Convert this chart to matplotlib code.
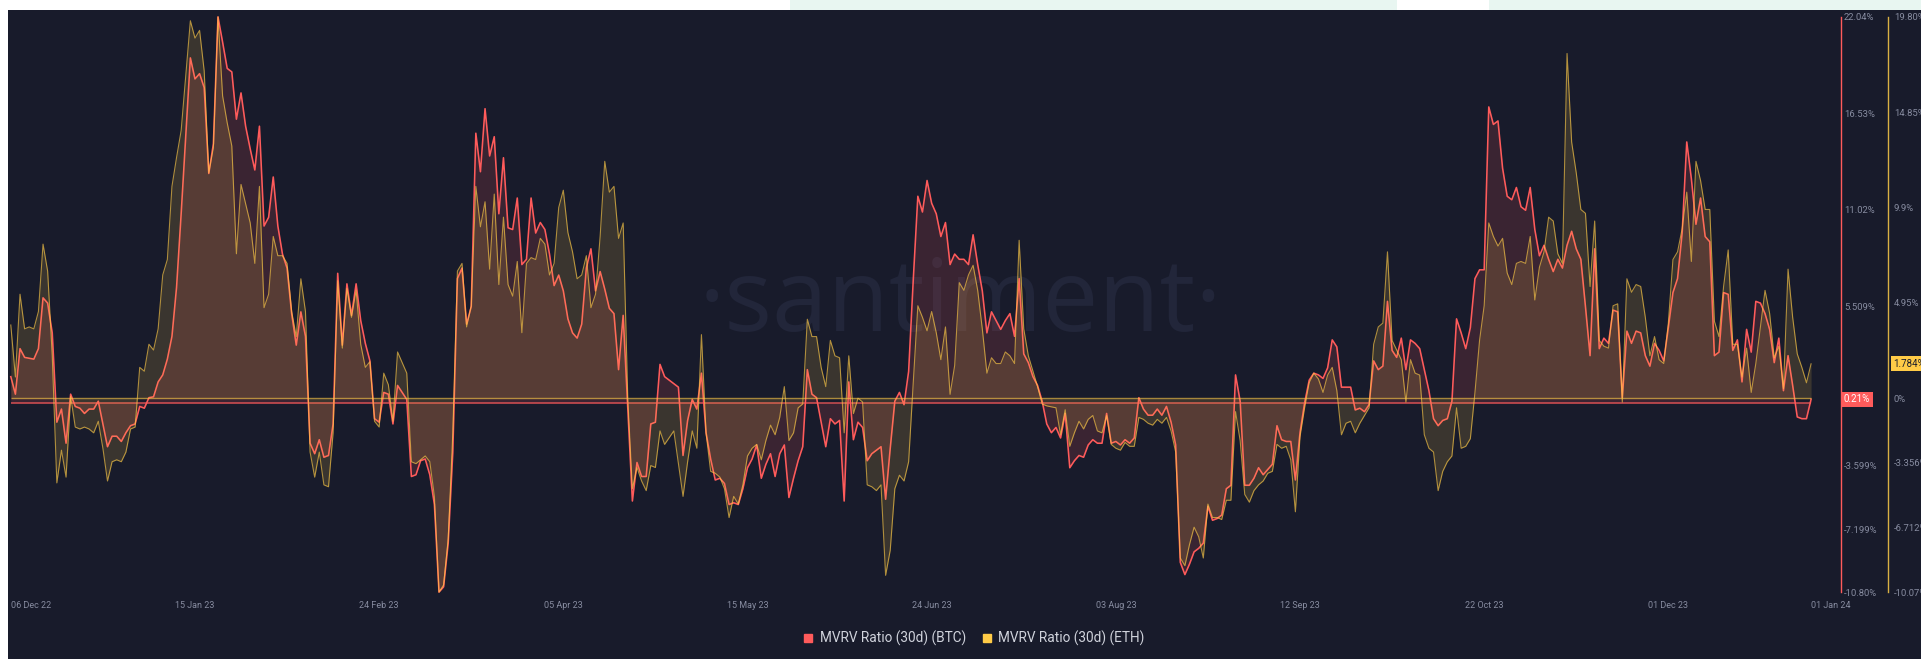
import matplotlib.pyplot as plt
from matplotlib.lines import Line2D
from matplotlib.patches import Rectangle
import pandas as pd

plt.rcParams['font.family'] = ['Roboto', 'DejaVu Sans']

# MVRV ratio (30d), % -- daily, counted in days from the first point
start = pd.Timestamp("2022-12-06")

btc_days = [0, 1, 2, 3, 5, 6, 7, 8, 9, 10, 11, 12, 13, 14, 15, 16, 17, 18, 19, 20,
            21, 22, 23, 24, 25, 26, 27, 28, 29, 30, 31, 32, 33, 34, 35, 36, 37, 39, 40, 41,
            42, 43, 44, 45, 46, 47, 48, 49, 50, 51, 52, 53, 54, 55, 56, 57, 58, 59, 60, 61,
            62, 63, 64, 65, 66, 67, 68, 69, 70, 71, 72, 73, 74, 75, 76, 77, 78, 79, 80, 81,
            82, 83, 84, 86, 87, 88, 89, 90, 91, 92, 93, 94, 95, 96, 97, 98, 99, 100, 101, 102,
            103, 104, 105, 106, 107, 108, 109, 110, 111, 112, 113, 114, 115, 116, 117, 118, 119, 120, 121, 122,
            123, 124, 125, 126, 127, 128, 129, 130, 131, 132, 133, 134, 135, 136, 137, 138, 139, 140, 141, 142,
            144, 145, 146, 147, 148, 149, 150, 151, 152, 153, 154, 155, 156, 157, 158, 159, 160, 161, 162, 163,
            164, 165, 166, 167, 168, 169, 170, 171, 172, 173, 174, 175, 176, 177, 178, 179, 180, 181, 182, 183,
            184, 185, 186, 187, 189, 190, 191, 192, 193, 194, 195, 196, 197, 198, 199, 200, 201, 202, 203, 204,
            205, 206, 207, 208, 209, 210, 211, 212, 213, 214, 215, 216, 217, 218, 219, 220, 221, 222, 223, 224,
            225, 226, 227, 228, 229, 230, 231, 232, 233, 234, 235, 236, 237, 238, 239, 240, 241, 242, 243, 244,
            245, 246, 247, 248, 249, 250, 251, 252, 253, 254, 255, 256, 257, 258, 259, 260, 261, 262, 263, 264,
            265, 266, 267, 268, 269, 270, 271, 272, 273, 274, 275, 276, 277, 278, 279, 280, 281, 282, 283, 284,
            285, 286, 287, 288, 289, 290, 291, 292, 293, 294, 295, 296, 297, 298, 299, 300, 301, 302, 303, 304,
            305, 306, 307, 308, 309, 310, 311, 312, 313, 314, 315, 316, 317, 318, 319, 320, 321, 322, 323, 324,
            325, 326, 327, 328, 329, 330, 331, 332, 333, 334, 335, 336, 337, 338, 339, 340, 341, 342, 343, 344,
            345, 346, 347, 348, 349, 350, 351, 352, 353, 354, 355, 356, 357, 358, 359, 360, 361, 362, 363, 364,
            365, 366, 367, 368, 369, 370, 371, 372, 373, 374, 375, 376, 377, 378, 379, 380, 381, 382, 383, 384,
            385, 386, 387, 388, 389, 390, 391]
btc_mvrv = [1.5, 0.5, 3.1, 2.6, 2.5, 3.1, 6.0, 5.7, 4.0, -1.1, -0.35, -2.3, 0.5, -0.2, -0.3, -0.6, -0.35, -0.35, 0.1, -1.2,
            -2.5, -1.9, -1.9, -2.2, -1.7, -1.3, -1.2, -0.2, -0.3, 0.3, 0.35, 1.2, 1.6, 2.5, 3.8, 6.6, 10.8, 19.7, 18.5, 18.8,
            18.0, 13.1, 14.8, 22.04, 20.6, 19.1, 18.9, 16.2, 17.7, 15.8, 14.5, 13.3, 15.8, 10.1, 10.6, 12.9, 10.1, 8.5, 7.7, 5.1,
            3.3, 5.2, 3.8, -2.3, -2.9, -2.1, -3.1, -3.0, -1.2, 7.4, 3.3, 6.8, 5.0, 6.8, 4.7, 3.4, 2.4, -0.9, -1.1, 0.6,
            0.5, -1.2, 1.0, 0.2, -4.2, -4.1, -3.3, -3.2, -4.1, -5.8, -10.80, -10.5, -8.0, -2.8, 7.1, 7.7, 4.5, 5.5, 15.4, 13.2,
            16.8, 14.1, 15.2, 10.8, 14.0, 10.0, 9.9, 11.7, 7.9, 8.2, 11.7, 9.7, 10.3, 9.9, 8.5, 6.7, 7.3, 6.4, 4.8, 4.0,
            3.7, 4.5, 7.7, 8.8, 6.4, 7.5, 6.5, 5.4, 5.1, 1.9, 5.0, -0.35, -5.6, -3.4, -4.2, -4.2, -1.2, -1.1, 2.2, 1.5,
            1.1, 0.9, -3.0, -1.0, 0.2, -0.35, 1.7, -1.7, -3.2, -4.4, -4.3, -4.6, -5.8, -5.7, -5.8, -4.9, -3.7, -3.2, -2.4, -4.3,
            -3.5, -2.9, -4.2, -2.9, -2.4, -5.4, -4.3, -3.3, -2.5, 1.9, 0.5, 0.3, -1.1, -2.5, -0.9, -1.2, -1.0, -5.6, 1.2, -2.1,
            -1.1, -1.4, -3.3, -2.9, -2.5, -5.5, -2.6, 0.1, 0.6, -0.1, 1.8, 7.0, 11.8, 10.9, 12.7, 11.4, 10.8, 9.5, 10.3, 7.9,
            8.5, 8.2, 8.2, 7.9, 9.6, 7.9, 6.4, 4.0, 5.2, 4.7, 4.2, 4.7, 5.1, 3.8, 7.1, 2.8, 2.3, 1.5, 1.0, 0.1,
            -1.2, -1.7, -1.4, -2.0, -0.6, -3.7, -3.3, -3.0, -3.1, -2.4, -2.1, -2.3, -2.3, -0.6, -2.3, -2.2, -2.4, -2.1, -2.3, -2.0,
            0.3, -0.35, -0.7, -0.7, -0.35, -0.7, -0.2, -1.1, -2.4, -9.1, -9.8, -9.2, -8.5, -8.3, -8.0, -5.9, -6.7, -6.6, -6.4, -4.9,
            -4.7, 1.6, 0.1, -4.7, -4.7, -4.3, -3.7, -4.1, -3.8, -3.5, -1.3, -2.1, -2.2, -2.2, -4.4, -1.7, 0.0, 1.3, 1.7, 1.6,
            1.4, 2.0, 3.6, 3.2, 0.9, 0.9, 0.9, -0.4, -0.3, -0.5, -0.1, 2.4, 1.9, 2.1, 5.8, 3.0, 2.6, 3.7, 1.9, 3.6,
            3.4, 3.1, 1.9, 0.7, -0.9, -1.3, -1.0, -0.9, 0.1, 4.8, 4.0, 3.1, 4.3, 7.1, 7.6, 7.6, 16.9, 15.9, 16.1, 13.4,
            11.8, 11.6, 12.3, 11.2, 11.0, 12.3, 9.9, 8.4, 9.0, 8.2, 7.5, 8.2, 7.7, 9.0, 9.8, 8.8, 8.2, 5.5, 2.7, 8.8,
            3.1, 3.7, 3.4, 5.3, 5.2, 0.3, 4.1, 3.4, 4.1, 4.0, 2.7, 2.1, 3.4, 3.0, 2.4, 4.3, 6.3, 7.1, 9.7, 14.9,
            12.8, 10.2, 11.7, 9.5, 9.2, 2.7, 2.9, 6.3, 6.2, 3.0, 3.6, 1.2, 4.2, 2.9, 5.8, 5.7, 5.1, 4.2, 2.3, 3.7,
            0.7, 2.7, 1.0, -0.8, -0.9, -0.9, 0.21]

eth_days = [0, 1, 2, 3, 4, 5, 6, 7, 8, 9, 10, 11, 12, 13, 14, 15, 16, 17, 18, 19,
            20, 21, 22, 23, 24, 25, 26, 27, 28, 29, 30, 31, 32, 33, 34, 35, 36, 37, 39, 40,
            41, 42, 43, 44, 45, 46, 47, 48, 49, 50, 52, 53, 54, 55, 56, 57, 58, 59, 60, 61,
            62, 63, 64, 65, 66, 67, 68, 69, 70, 71, 72, 73, 74, 75, 76, 77, 78, 79, 80, 81,
            82, 83, 84, 86, 87, 88, 90, 91, 92, 93, 94, 95, 96, 97, 98, 99, 100, 101, 102, 103,
            104, 105, 106, 107, 108, 109, 110, 111, 112, 113, 114, 115, 116, 117, 118, 119, 120, 121, 122, 123,
            124, 125, 126, 127, 128, 129, 130, 131, 132, 133, 134, 135, 136, 137, 138, 139, 140, 141, 142, 144,
            145, 146, 147, 148, 149, 150, 151, 152, 153, 154, 155, 156, 157, 158, 159, 160, 161, 162, 163, 164,
            165, 166, 167, 168, 169, 170, 171, 172, 173, 174, 175, 176, 177, 178, 179, 180, 181, 182, 183, 184,
            185, 186, 187, 188, 189, 190, 191, 192, 193, 194, 195, 196, 197, 198, 199, 200, 201, 202, 203, 204,
            205, 206, 207, 208, 209, 210, 211, 212, 213, 214, 215, 216, 217, 218, 219, 220, 221, 222, 223, 224,
            225, 227, 228, 229, 230, 231, 232, 233, 234, 235, 236, 237, 238, 239, 240, 241, 242, 243, 244, 245,
            246, 247, 248, 249, 250, 251, 252, 253, 254, 255, 256, 257, 258, 259, 260, 261, 262, 263, 264, 265,
            266, 267, 268, 269, 270, 271, 272, 273, 274, 275, 276, 277, 278, 279, 280, 281, 282, 283, 284, 285,
            286, 287, 288, 289, 290, 291, 292, 293, 294, 295, 296, 297, 298, 299, 300, 301, 302, 303, 304, 305,
            306, 307, 308, 309, 310, 311, 312, 313, 314, 315, 316, 317, 318, 319, 320, 321, 322, 323, 324, 325,
            326, 327, 328, 329, 330, 331, 332, 333, 334, 335, 336, 337, 338, 339, 340, 341, 342, 343, 344, 345,
            346, 347, 348, 349, 350, 351, 352, 353, 354, 355, 356, 357, 358, 359, 360, 361, 362, 363, 364, 365,
            366, 367, 368, 369, 370, 371, 372, 373, 374, 375, 376, 377, 378, 379, 380, 381, 382, 383, 384, 385,
            386, 387, 388, 389, 390, 391]
eth_mvrv = [3.8, 1.1, 5.4, 3.6, 3.7, 3.6, 4.5, 8.0, 6.6, 2.2, -4.4, -2.7, -4.1, 0.1, -1.5, -1.6, -1.5, -1.6, -1.8, -1.2,
            -2.6, -4.3, -3.3, -3.2, -3.3, -2.8, -1.6, -1.5, 1.6, 1.4, 2.8, 2.5, 3.6, 6.4, 7.2, 11.0, 12.5, 13.9, 19.6, 18.7,
            19.1, 17.0, 11.7, 13.0, 19.80, 15.7, 14.3, 13.1, 7.5, 11.1, 9.1, 7.0, 11.0, 4.7, 5.4, 8.4, 7.4, 7.4, 7.0, 4.5,
            3.2, 6.2, 4.5, -2.8, -4.1, -2.8, -4.5, -4.6, -1.8, 6.1, 2.6, 5.7, 4.2, 5.6, 2.8, 1.6, 1.9, -1.2, -1.5, 1.3,
            0.7, -1.2, 2.4, 1.3, -3.3, -3.4, -3.0, -3.3, -5.1, -10.07, -9.7, -7.3, -1.8, 6.6, 7.0, 3.7, 4.8, 11.0, 8.9, 10.2,
            6.7, 10.6, 5.9, 9.4, 5.9, 5.3, 7.1, 3.4, 7.0, 7.3, 7.2, 8.3, 8.0, 6.4, 7.0, 9.9, 10.8, 8.6, 7.6, 6.2,
            6.4, 7.4, 4.7, 5.4, 8.4, 12.3, 10.7, 11.0, 8.3, 9.1, 0.0, -4.7, -3.6, -4.3, -4.8, -3.5, -3.6, -1.7, -2.4, -1.7,
            -3.4, -5.1, -3.3, -1.7, -2.6, 3.3, -1.8, -3.8, -3.9, -4.1, -4.7, -6.2, -5.1, -5.5, -4.5, -3.0, -2.6, -2.4, -3.2, -2.2,
            -1.4, -1.9, -1.0, 0.6, -2.2, -1.8, -0.5, -0.3, 4.1, 3.2, 3.2, 1.6, 0.6, 3.0, 2.2, 2.1, -1.8, 2.2, -0.8, 0.0,
            -0.2, -4.5, -4.6, -4.8, -4.5, -9.2, -7.9, -4.7, -4.0, -4.3, -3.3, 0.8, 4.8, 4.2, 3.5, 4.5, 3.4, 2.0, 3.7, 0.2,
            1.7, 6.0, 5.6, 6.4, 6.9, 5.6, 3.6, 1.3, 2.1, 1.8, 1.8, 2.4, 2.2, 1.8, 8.2, 3.6, 2.2, 1.4, 0.6, -0.3,
            -0.4, -0.5, -1.9, -0.6, -2.5, -1.8, -1.2, -1.6, -1.1, -0.9, -1.7, -1.8, -0.9, -2.4, -2.6, -2.7, -2.3, -2.5, -2.5, -1.0,
            -1.1, -1.3, -1.4, -1.1, -1.3, -1.0, -1.7, -2.8, -8.3, -8.7, -7.6, -6.7, -7.2, -8.3, -5.5, -6.2, -6.2, -6.3, -5.3, -5.3,
            -0.7, -2.2, -5.0, -5.4, -4.8, -4.5, -4.3, -3.9, -3.8, -2.4, -2.6, -2.5, -3.2, -5.9, -2.0, -0.5, 0.8, 1.3, 1.0, 0.3,
            1.2, 1.6, 0.4, -1.9, -1.3, -1.2, -1.8, -1.3, -0.9, -0.5, 2.8, 3.7, 3.9, 7.6, 3.0, 2.5, 2.0, -0.2, 2.0, 1.3,
            1.2, -1.9, -2.6, -2.8, -4.8, -3.8, -3.3, -3.0, -0.5, -2.6, -2.5, -2.1, 0.3, 3.0, 4.8, 9.1, 8.4, 7.9, 8.3, 6.5,
            5.9, 7.0, 7.1, 7.0, 8.4, 5.1, 6.8, 7.6, 9.4, 9.2, 7.5, 7.0, 17.9, 13.3, 11.7, 9.8, 9.6, 5.8, 9.2, 3.0,
            2.7, 2.6, 4.8, 4.9, -0.2, 6.2, 5.5, 5.9, 5.8, 4.2, 2.2, 3.2, 2.0, 1.8, 3.9, 7.2, 7.6, 8.8, 10.7, 7.1,
            12.3, 11.3, 9.8, 9.8, 4.0, 3.2, 5.8, 7.7, 2.8, 2.8, 1.1, 2.6, 0.3, 1.8, 3.7, 5.6, 4.4, 2.1, 2.7, 0.5,
            6.7, 4.2, 2.3, 1.6, 0.8, 1.784]

btc_ticks = [22.04, 16.53, 11.02, 5.509, -3.599, -7.199, -10.80]
btc_tick_labels = ["22.04%", "16.53%", "11.02%", "5.509%", "-3.599%", "-7.199%", "-10.80%"]
eth_ticks = [19.80, 14.85, 9.9, 4.95, 0, -3.356, -6.712, -10.07]
eth_tick_labels = ["19.80%", "14.85%", "9.9%", "4.95%", "0%", "-3.356%", "-6.712%", "-10.07%"]

date_ticks = ["2022-12-06", "2023-01-15", "2023-02-24", "2023-04-05", "2023-05-15", "2023-06-24",
              "2023-08-03", "2023-09-12", "2023-10-22", "2023-12-01", "2024-01-01"]
date_labels = ["06 Dec 22", "15 Jan 23", "24 Feb 23", "05 Apr 23", "15 May 23", "24 Jun 23",
               "03 Aug 23", "12 Sep 23", "22 Oct 23", "01 Dec 23", "01 Jan 24"]

series_names = ["MVRV Ratio (30d) (BTC)", "MVRV Ratio (30d) (ETH)"]

BG = "#181b2b"
RED = "#ff5b5b"
YEL = "#ffcb47"
GRAY = "#878ca0"

W, H = 1921, 659
fig = plt.figure(figsize=(W / 100, H / 100), dpi=100, facecolor=BG)

# plot box in pixels: left 8.5, right 1841, top 10, bottom 599
ax = fig.add_axes([8.5 / W, 1 - 599 / H, (1841 - 8.5) / W, (599 - 10) / H])
ax.set_facecolor(BG)

btc_x = start + pd.to_timedelta(btc_days, unit="D")
eth_x = start + pd.to_timedelta(eth_days, unit="D")

# watermark
ax.text(960 / W, 1 - 331 / H, "·santiment·", transform=fig.transFigure,
        fontsize=72, family=["Open Sans", "DejaVu Sans"], weight="normal",
        color="#22263a", ha="center", va="baseline", zorder=0)

ax.fill_between(btc_x, btc_mvrv, 0, color=RED, alpha=0.15, lw=0, zorder=1)
ax.hlines(0, btc_x[0], btc_x[-1], color=RED, lw=1.1, alpha=0.8, zorder=2)
ax.plot(btc_x, btc_mvrv, color=RED, lw=1.15, zorder=3)

ax2 = ax.twinx()
ax2.fill_between(eth_x, eth_mvrv, 0, color=YEL, alpha=0.15, lw=0, zorder=1)
ax2.hlines(0, eth_x[0], eth_x[-1], color=YEL, lw=1.0, alpha=0.6, zorder=2)
ax2.plot(eth_x, eth_mvrv, color=YEL, lw=0.8, alpha=0.65, zorder=3)

# limits: small padding around the data extremes
bpad = 0.012 * (max(btc_mvrv) - min(btc_mvrv))
epad = 0.012 * (max(eth_mvrv) - min(eth_mvrv))
ax.set_ylim(min(btc_mvrv) - bpad, max(btc_mvrv) + bpad)
ax2.set_ylim(min(eth_mvrv) - epad, max(eth_mvrv) + epad)
ax.set_xlim(start - pd.Timedelta(hours=12), start + pd.Timedelta(days=397.5))

for a in (ax, ax2):
    for s in ("top", "left", "bottom"):
        a.spines[s].set_visible(False)

eth_axis_pos = 1 + 47 / 1832.5

ax.yaxis.tick_right()
ax.set_yticks(btc_ticks, btc_tick_labels)
ax.tick_params(axis="y", length=0, pad=2.2, labelsize=6.8, labelcolor=GRAY)
ax.spines["right"].set_color(RED)
ax.spines["right"].set_linewidth(1.0)
ax.spines["right"].set_bounds(min(btc_mvrv), max(btc_mvrv))

ax2.set_yticks(eth_ticks, eth_tick_labels)
ax2.tick_params(axis="y", length=0, pad=4.3, labelsize=6.8, labelcolor=GRAY)
ax2.spines["right"].set_position(("axes", eth_axis_pos))
ax2.spines["right"].set_color("#d9b043")
ax2.spines["right"].set_linewidth(1.0)
ax2.spines["right"].set_bounds(min(eth_mvrv), max(eth_mvrv))

ax.set_xticks(pd.to_datetime(date_ticks))
ax.set_xticklabels(date_labels)
ax.tick_params(axis="x", length=0, pad=1.5, labelsize=6.5, labelcolor=GRAY)
xt = ax.get_xticklabels()
xt[0].set_ha("left")
xt[-1].set_ha("left")

# last-value badges
ax.annotate(f"{btc_mvrv[-1]:.2f}%", xy=(1, btc_mvrv[-1]), xycoords=ax.get_yaxis_transform(),
            xytext=(3, 0), textcoords="offset pixels", ha="left", va="center",
            fontsize=7, color="white", annotation_clip=False, zorder=6,
            bbox=dict(boxstyle="square,pad=0.25", fc=RED, ec="none"))
ax2.annotate(f"{eth_mvrv[-1]:.3f}%", xy=(eth_axis_pos, eth_mvrv[-1]), xycoords=ax2.get_yaxis_transform(),
             xytext=(5, 0), textcoords="offset pixels", ha="left", va="center",
             fontsize=7, color="#1b1e2c", annotation_clip=False, zorder=6,
             bbox=dict(boxstyle="square,pad=0.25", fc=YEL, ec="none"))

handles = [Line2D([], [], marker="s", ls="none", color=RED, markersize=6),
           Line2D([], [], marker="s", ls="none", color=YEL, markersize=6)]
fig.legend(handles, series_names, loc="center", bbox_to_anchor=(974 / W, 1 - 638 / H),
           ncol=2, frameon=False, fontsize=9.8, labelcolor="#d0d3dc",
           handlelength=0.7, handletextpad=0.5, columnspacing=1.2)

# page background peeking in at the top and left edges
for x0, x1, c in [(0, 790, "white"), (790, 1397, "#e8f6f1"), (1397, 1489, "white"), (1489, W, "#e8f6f1")]:
    fig.add_artist(Rectangle((x0 / W, 1 - 10 / H), (x1 - x0) / W, 10 / H,
                             transform=fig.transFigure, fc=c, ec="none", zorder=10))
fig.add_artist(Rectangle((0, 0), 8 / W, 1, transform=fig.transFigure, fc="white", ec="none", zorder=10))

fig.savefig("out.png", dpi=100, facecolor=BG)
